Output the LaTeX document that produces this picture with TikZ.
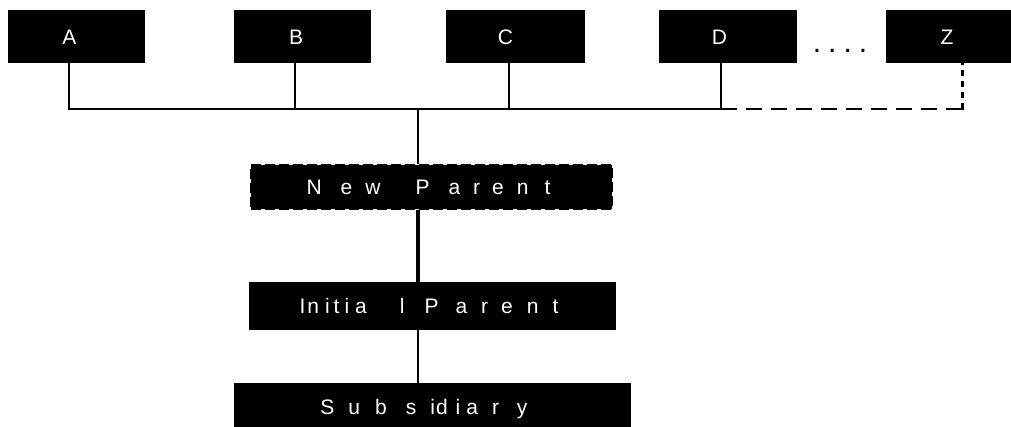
\documentclass[tikz,border=0pt]{standalone}
\usepackage{fontspec}
\setmainfont{Liberation Sans}
\usetikzlibrary{positioning}

\begin{document}
\begin{tikzpicture}[x = 1pt, y = -1pt, font = \fontsize{21}{25}\selectfont,
    entity/.style = {fill = black, text = white, inner sep = 0pt, minimum height = 53pt,
                     text height = 15pt, text depth = 0pt},
    link/.style = {line width = 1.5pt},
    ]
    \useasboundingbox (0,0) rectangle (1011,426);

    % top row
    \node[entity, minimum width = 137pt] (A) at (76.5,36.5) {A\kern14pt};
    \node[entity, minimum width = 137pt] (B) at (302.5,36.5) {B\kern13pt};
    \node[entity, minimum width = 139pt] (C) at (515.5,36.5) {C\kern20pt};
    \node[entity, minimum width = 138pt] (D) at (728,36.5) {D\kern17pt};
    \node[entity, minimum width = 137pt] (Z) at (954.5,36.5) {Z\kern15pt};
    \node[anchor = base, font = \fontsize{30}{30}\selectfont] (dots) at (840,52)
          {.\kern7pt.\kern7pt.\kern7pt.};

    % chain
    \node[entity, draw, line width = 1.8pt, dash pattern = on 10pt off 4pt,
          minimum width = 361pt, minimum height = 44pt] (newparent) at (431.5,187)
          {N\kern19pt e\kern13pt w\kern35pt P\kern19pt a\kern13pt r\kern12pt e\kern13pt n\kern16pt t\kern6pt};
    \node[entity, minimum width = 367pt, minimum height = 48pt] (initial) at (432.5,306)
          {I\kern2pt n\kern6pt i\kern4pt t\kern5pt i\kern6pt a\kern33pt l\kern20pt P\kern17pt a\kern14pt r\kern13pt e\kern14pt n\kern14pt t\kern7pt};
    \node[entity, minimum width = 397pt, minimum height = 48pt] (sub) at (432.5,407)
          {S\kern14pt u\kern15pt b\kern19pt s\kern14pt i\kern1pt d\kern8pt i\kern6pt a\kern14pt r\kern18pt y\kern17pt};

    % bus
    \coordinate (bus) at (418,109);
    \coordinate (dA) at (69,109);
    \coordinate (dB) at (295,109);
    \coordinate (dC) at (509,109);
    \coordinate (dD) at (721,109);
    \coordinate (dZ) at (962,109);

    \draw[link] (dA |- A.south) -- (dA) -- (dD) -- (dD |- D.south);
    \draw[link] (dB |- B.south) -- (dB);
    \draw[link] (dC |- C.south) -- (dC);
    \draw[link, dash pattern = on 16pt off 9pt] (dD) -- (dZ);
    \draw[line width = 3pt, dash pattern = on 6.5pt off 4.5pt] (dZ) -- (dZ |- Z.south);
    \draw[line width = 3pt] (dZ) ++(0,0.75) -- ++(0,-3);

    \draw[link] (bus) -- (bus |- newparent.north);
    \draw[line width = 4pt] (bus |- newparent.south) -- (bus |- initial.north);
    \draw[link] (bus |- initial.south) -- (bus |- sub.north);
\end{tikzpicture}
\end{document}
